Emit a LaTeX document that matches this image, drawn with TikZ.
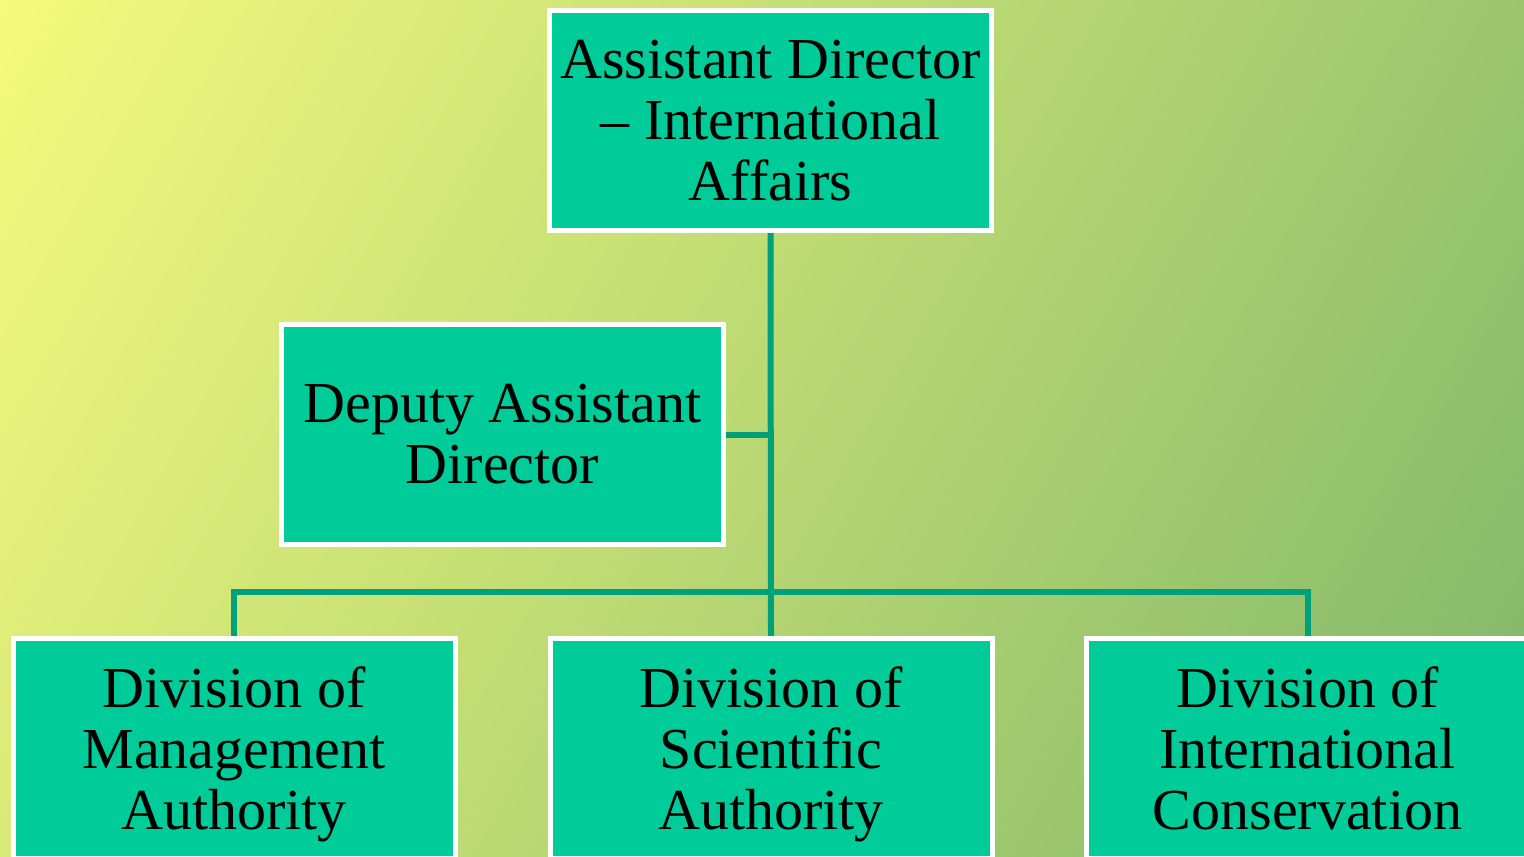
\documentclass[tikz,border=0pt]{standalone}
\usepackage{fontspec}
\setmainfont{Liberation Serif}
\usetikzlibrary{backgrounds}
\definecolor{bgyellow}{HTML}{F4FA7C}
\definecolor{bggreen}{HTML}{7FB66A}
\definecolor{boxfill}{HTML}{00CC99}
\definecolor{linkcol}{HTML}{00A07A}
% last line without descender depth, so every box centres alike
\newcommand{\nodesc}[1]{\raisebox{0pt}[\height][0pt]{#1}}

\begin{document}
\begin{tikzpicture}[x=1pt,y=-1pt,
            unit/.style={draw=white,line width=5pt,fill=boxfill,inner sep=0pt,
              minimum width=442pt,minimum height=220pt,align=center,
              font=\fontsize{58}{61}\selectfont},
            link/.style={draw=linkcol,line width=6pt}]
            \useasboundingbox(0,0)rectangle(1524,857);
            \node[unit](aia)at(770.5,120.5){Assistant Director\\ -- International\\ Affairs};
            \node[unit](dad)at(502.5,434.5){Deputy Assistant\\ Director};
            \node[unit](dma)at(234,748.5){Division of\\ Management\\ \nodesc{Authority}};
            \node[unit](dsa)at(771,748.5){Division of\\ Scientific\\ \nodesc{Authority}};
            \node[unit](dic)at(1307.5,748.5){Division of\\ International\\ Conservation};
            \coordinate(bar)at(771,592);
            \begin{pgfonlayer}{background}
              % diagonal wash, yellow top left to green bottom right
              \clip(0,0)rectangle(1524,857);
              \begin{scope}[transform canvas={rotate around={-29.35:(762,428.5)}}]
                \shade[left color=bgyellow,right color=bggreen]
                  (-112.2,-331.5)rectangle(1636.2,1188.5);
              \end{scope}
              \draw[link](aia.south)--(dsa.north);
              \draw[link](dad.east)--(dad.east-|aia.south);
              \draw[link](dma.north)|-(bar)-|(dic.north);
            \end{pgfonlayer}
          \end{tikzpicture}
\end{document}
